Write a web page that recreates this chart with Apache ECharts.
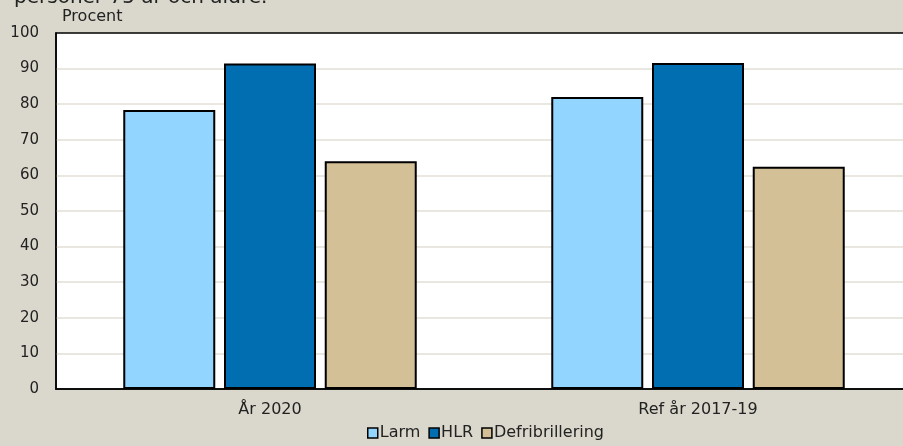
<!DOCTYPE html>
<html>
<head>
<meta charset="utf-8">
<script src="https://cdn.jsdelivr.net/npm/echarts@6/dist/echarts.min.js"></script>
<style>
  html, body { margin: 0; padding: 0; background: #dad8cc; }
  #chart { width: 903px; height: 446px; }
</style>
</head>
<body>
<div id="chart"></div>
<script>
const categories = ['År 2020', 'Ref år 2017-19']
const larm = [78.4, 82.0]
const hlr = [91.4, 91.6]
const defib = [64.0, 62.4]
const yTicks = [0, 10, 20, 30, 40, 50, 60, 70, 80, 90, 100]

const chart = echarts.init(document.getElementById('chart'))
const font = '"DejaVu Sans", sans-serif'

const bar = (name, data, color) => ({
  name,
  type: 'bar',
  data,
  barWidth: 92,
  barGap: '9.5%',
  itemStyle: { color, borderColor: '#000', borderWidth: 2 }
})

chart.setOption({
  backgroundColor: '#dad8cc',
  textStyle: { fontFamily: font, color: '#222' },
  animation: false,
  graphic: [
    {
      type: 'text', left: 14, top: -12,
      style: { text: 'personer 75 år och äldre.', fontSize: 20, fontFamily: font, fill: '#222' }
    },
    {
      type: 'text', left: 62, top: 9,
      style: { text: 'Procent', fontSize: 16, fontFamily: font, fill: '#222' }
    }
  ],
  /* vänster kant = 56, högerkanten ligger utanför bilden */
  grid: {
    left: 56, right: -9, top: 33, bottom: 57,
    outerBoundsMode: 'none',
    containLabel: false,
    show: true, backgroundColor: '#fff', borderColor: '#000', borderWidth: 1.5
  },
  legend: {
    bottom: 0,
    left: 362,
    itemWidth: 10,
    itemHeight: 10,
    itemGap: 8,
    icon: 'rect',
    textStyle: { fontSize: 16, fontFamily: font, color: '#222', padding: [0, 0, 0, -3] },
    itemStyle: { borderColor: '#000', borderWidth: 1.5 }
  },
  xAxis: {
    type: 'category',
    data: categories,
    axisLine: { lineStyle: { color: '#000', width: 1.5 } },
    axisTick: { inside: true, length: 7, lineStyle: { color: '#333', width: 2 } },
    axisLabel: { fontSize: 16, fontFamily: font, color: '#222', margin: 13 }
  },
  yAxis: {
    type: 'value',
    min: yTicks[0],
    max: yTicks[yTicks.length - 1],
    interval: 10,
    axisLine: { show: true, lineStyle: { color: '#000', width: 1.5 } },
    axisTick: { show: false },
    axisLabel: { fontSize: 15, fontFamily: font, color: '#222', margin: 17 },
    splitLine: { showMinLine: false, showMaxLine: false, lineStyle: { color: '#e2dfd5', width: 1.5 } }
  },
  series: [
    bar('Larm', larm, '#92d5ff'),
    bar('HLR', hlr, '#006eb0'),
    bar('Defribrillering', defib, '#d3c096')
  ]
})
</script>
</body>
</html>
